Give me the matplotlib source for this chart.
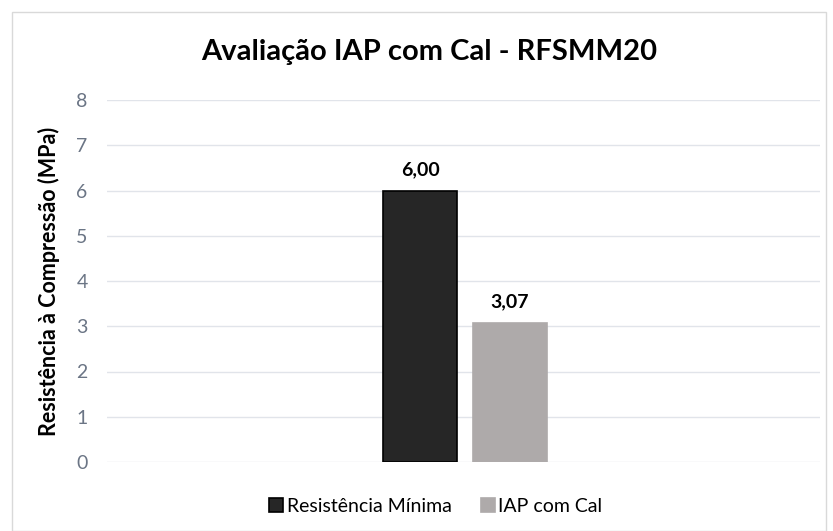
import numpy as np
import matplotlib.pyplot as plt
from matplotlib.patches import Rectangle

plt.rcParams['font.family'] = ['Lato', 'DejaVu Sans']

series = ["Resistência Mínima", "IAP com Cal"]
values = [6.00, 3.07]
labels = ["6,00", "3,07"]
colors = ["#262626", "#aeaaaa"]
edges = ["#000000", "#aeaaaa"]
yticks = [0, 1, 2, 3, 4, 5, 6, 7, 8]

fig = plt.figure(figsize=(8.33, 5.31), dpi=100)
fig.patches.append(Rectangle((12 / 833, 0), 814 / 833, 519 / 531, transform=fig.transFigure,
                             fill=False, edgecolor="#d9d9d9", linewidth=1))

ax = fig.add_axes([107 / 833, (531 - 462) / 531, 713 / 833, 362 / 531])

width = 0.103
offsets = [-0.063, 0.063]
for i in range(len(series)):
    ax.bar(offsets[i] + 0.002, values[i], width, color=colors[i], edgecolor=edges[i],
           linewidth=1.2, label=series[i], zorder=3)
    ax.text(offsets[i] + 0.002, values[i] + 0.28, labels[i], ha="center", va="bottom",
            fontsize=14, fontweight="bold", color="#000000")

ax.set_xlim(-0.5, 0.5)
ax.set_ylim(0, 8)
ax.set_yticks(yticks)
ax.set_yticklabels([str(t) for t in yticks], fontsize=14, color="#6b7585")
ax.set_xticks([])
ax.tick_params(axis="y", length=0, pad=14)
ax.grid(axis="y", color="#e1e4ea", linewidth=1, zorder=0)
for s in ax.spines.values():
    s.set_visible(False)

ax.set_ylabel("Resistência à Compressão (MPa)", fontsize=15.5, fontweight="bold", labelpad=12)
fig.text(0.515, 1 - 52 / 531, "Avaliação IAP com Cal - RFSMM20", ha="center", va="center",
         fontsize=21, fontweight="bold")

fig.legend(loc="center", bbox_to_anchor=(436 / 833, 1 - 506 / 531), ncol=2, frameon=False,
           fontsize=14, handlelength=0.7, handleheight=0.7, handletextpad=0.2, columnspacing=1.5)

fig.savefig("out.png", dpi=100)
